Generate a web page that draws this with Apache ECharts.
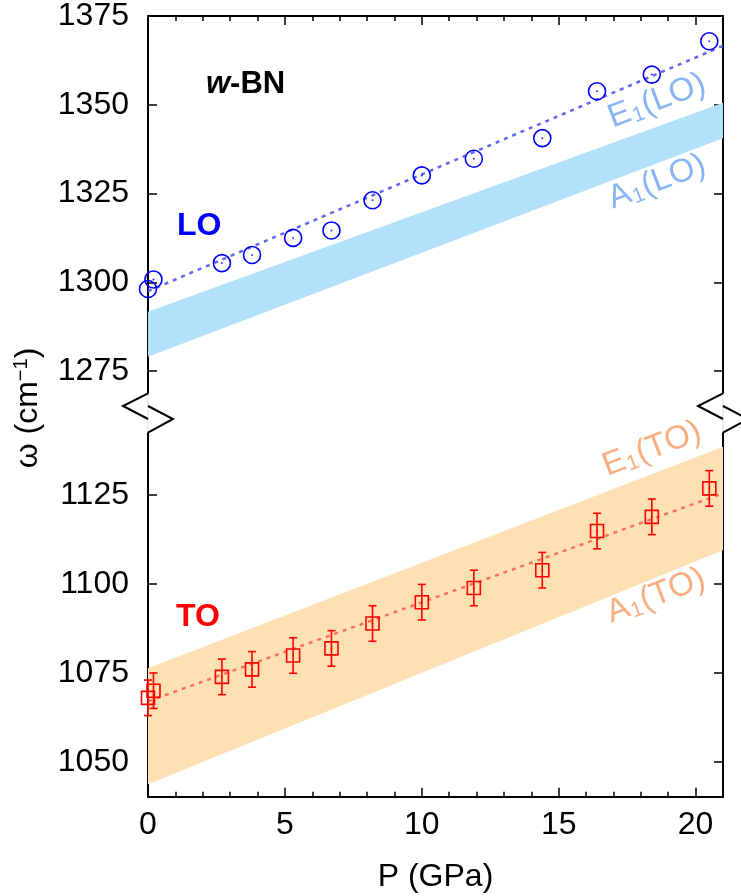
<!DOCTYPE html>
<html><head><meta charset="utf-8">
<script src="https://cdn.jsdelivr.net/npm/echarts@6/dist/echarts.min.js"></script>
<style>html,body{margin:0;padding:0;background:#fff}#c{width:741px;height:896px}</style>
</head><body><div id="c"></div><script>
// ---- data ----
const pressure = [0, 0.2, 2.7, 3.8, 5.3, 6.7, 8.2, 10.0, 11.9, 14.4, 16.4, 18.4, 20.5];
const loFreq = [1298.1, 1300.8, 1305.4, 1307.7, 1312.5, 1314.6, 1323.1, 1330.1, 1334.8, 1340.6, 1353.8, 1358.5, 1367.9];
const toFreq = [1068.0, 1070.0, 1073.9, 1076.0, 1079.9, 1081.9, 1088.9, 1094.9, 1098.9, 1103.9, 1114.9, 1118.9, 1126.9];
const toErr = [5, 5, 5, 5, 5, 5, 5, 5, 5, 5, 5, 5, 5];
const fitP = [0, 21];
const loFit = [1297.5, 1366.6];
const toFit = [1067.0, 1125.5];
const bandP = [0, 21];
const loA1 = [1279.0, 1340.6];
const loE1 = [1291.7, 1350.6];
const toA1 = [1043.7, 1109.5];
const toE1 = [1076.3, 1138.6];
const xTicks = [0, 5, 10, 15, 20];
const yTicksTop = [1275, 1300, 1325, 1350, 1375];
const yTicksBottom = [1050, 1075, 1100, 1125];

// ---- layout ----
const font = 'Liberation Sans, Arial, Helvetica, sans-serif';
const GL = 148, GW = 575;
const T1 = 15.3, H1 = 378;
const T2 = 432.7, H2 = 364;
const topMin = 1375 - H1 / 3.557, topMax = 1375;
const botMin = 1040.2, botMax = 1040.2 + H2 / 3.556;

const chart = echarts.init(document.getElementById('c'), null, {renderer: 'canvas'});

function xAxisCfg(gi, pos, labels) {
  return {
    type: 'value', gridIndex: gi, position: pos, min: 0, max: 21, interval: 5,
    axisLine: {show: true, onZero: false, lineStyle: {color: '#000', width: 2}},
    axisTick: {show: true, inside: true, length: 9, lineStyle: {color: '#000', width: 1.5}},
    minorTick: {show: true, splitNumber: 5, length: 5, lineStyle: {color: '#000', width: 1.5}},
    splitLine: {show: false}, minorSplitLine: {show: false},
    axisLabel: {show: labels, fontSize: 32, fontFamily: font, color: '#000', margin: 12,
      formatter: v => xTicks.includes(v) ? String(v) : ''}
  };
}
function yAxisCfg(gi, pos, mn, mx, ticks, labels) {
  return {
    type: 'value', gridIndex: gi, position: pos, min: mn, max: mx,
    axisLine: {show: true, onZero: false, lineStyle: {color: '#000', width: 2}},
    axisTick: {show: true, inside: true, length: 9, customValues: ticks, lineStyle: {color: '#000', width: 1.5}},
    splitLine: {show: false},
    axisLabel: {show: labels, customValues: ticks, fontSize: 32, fontFamily: font, color: '#000', margin: 19,
      formatter: v => String(Math.round(v))}
  };
}
function bandSeries(xi, yi, a, e, color) {
  return {
    type: 'custom', xAxisIndex: xi, yAxisIndex: yi, silent: true, z: 1,
    data: [[bandP[0], a[0], e[0], bandP[1], a[1], e[1]]],
    encode: {x: [0, 3], y: [1, 2, 4, 5]},
    renderItem: (params, api) => {
      const p1 = api.coord([api.value(0), api.value(1)]);
      const p2 = api.coord([api.value(3), api.value(4)]);
      const p3 = api.coord([api.value(3), api.value(5)]);
      const p4 = api.coord([api.value(0), api.value(2)]);
      return {type: 'polygon', shape: {points: [p1, p2, p3, p4]}, style: {fill: color}};
    }
  };
}
function fitSeries(xi, yi, vals, color) {
  return {
    type: 'line', xAxisIndex: xi, yAxisIndex: yi, silent: true, z: 3, showSymbol: false,
    data: fitP.map((p, i) => [p, vals[i]]),
    lineStyle: {color: color, width: 2.5, type: [4, 5]}
  };
}

const option = {
  animation: false,
  backgroundColor: '#fff',
  grid: [
    {left: GL, top: T1, width: GW, height: H1},
    {left: GL, top: T2, width: GW, height: H2}
  ],
  xAxis: [xAxisCfg(0, 'top', false), xAxisCfg(1, 'bottom', true)],
  yAxis: [
    yAxisCfg(0, 'left', topMin, topMax, yTicksTop, true),
    yAxisCfg(0, 'right', topMin, topMax, yTicksTop, false),
    yAxisCfg(1, 'left', botMin, botMax, yTicksBottom, true),
    yAxisCfg(1, 'right', botMin, botMax, yTicksBottom, false)
  ],
  series: [
    bandSeries(0, 0, loA1, loE1, '#b3e0fb'),
    bandSeries(1, 2, toA1, toE1, '#fde1b2'),
    fitSeries(0, 0, loFit, '#6464f2'),
    fitSeries(1, 2, toFit, '#f7705e'),
    {
      type: 'custom', xAxisIndex: 1, yAxisIndex: 2, z: 4, clip: false,
      data: pressure.map((p, i) => [p, toFreq[i], toErr[i]]),
      encode: {x: 0, y: 1},
      renderItem: (params, api) => {
        const x = api.value(0), y = api.value(1), e = api.value(2);
        const t = api.coord([x, y + e]), b = api.coord([x, y - e]);
        const c = 4, st = {stroke: '#ff0000', lineWidth: 1.6};
        return {type: 'group', children: [
          {type: 'line', shape: {x1: t[0], y1: t[1], x2: b[0], y2: b[1]}, style: st},
          {type: 'line', shape: {x1: t[0] - c, y1: t[1], x2: t[0] + c, y2: t[1]}, style: st},
          {type: 'line', shape: {x1: b[0] - c, y1: b[1], x2: b[0] + c, y2: b[1]}, style: st}
        ]};
      }
    },
    {
      type: 'scatter', xAxisIndex: 0, yAxisIndex: 0, z: 5, clip: false,
      symbol: 'circle', symbolSize: 17,
      itemStyle: {color: 'rgba(0,0,0,0)', borderColor: '#0000ff', borderWidth: 1.6, opacity: 1},
      data: pressure.map((p, i) => [p, loFreq[i]])
    },
    {
      type: 'scatter', xAxisIndex: 0, yAxisIndex: 0, z: 5, clip: false,
      symbol: 'circle', symbolSize: 2, itemStyle: {color: '#0000ff'},
      data: pressure.map((p, i) => [p, loFreq[i]])
    },
    {
      type: 'scatter', xAxisIndex: 1, yAxisIndex: 2, z: 5, clip: false,
      symbol: 'rect', symbolSize: 13,
      itemStyle: {color: 'rgba(0,0,0,0)', borderColor: '#ff0000', borderWidth: 1.6, opacity: 1},
      data: pressure.map((p, i) => [p, toFreq[i]])
    },
    {
      type: 'scatter', xAxisIndex: 1, yAxisIndex: 2, z: 5, clip: false,
      symbol: 'circle', symbolSize: 2, itemStyle: {color: '#ff0000'},
      data: pressure.map((p, i) => [p, toFreq[i]])
    }
  ]
};
chart.setOption(option);

// ---- decorations: axis break marks & text ----
const xl = GL, xr = GL + GW, yb1 = T1 + H1, yt2 = T2;
const ym = (yb1 + yt2) / 2, dz = 25;
const zig = (x0) => [
  {type: 'line', shape: {x1: x0, y1: yb1, x2: x0, y2: yt2}, style: {stroke: '#dddddd', lineWidth: 1}, z: 10},
  {type: 'polyline', shape: {points: [[x0, yb1], [x0 - dz, ym - 7], [x0, ym + 6]]}, style: {stroke: '#000', lineWidth: 2, fill: null}, z: 11},
  {type: 'polyline', shape: {points: [[x0, ym - 7], [x0 + dz, ym + 6], [x0, yt2]]}, style: {stroke: '#000', lineWidth: 2, fill: null}, z: 11}
];
const rot = 21 * Math.PI / 180;
const lblRich = (c) => ({
  n: {fontSize: 33, fontFamily: font, fill: c},
  s: {fontSize: 21, fontFamily: font, fill: c, padding: [13, 1, 0, 1]}
});
const rotLabel = (x, y, letter, mode, c) => ({
  type: 'text', x: x, y: y, rotation: rot, z: 12,
  style: {text: '{n|' + letter + '}{s|1}{n|(' + mode + ')}', rich: lblRich(c), fill: c,
    align: 'center', verticalAlign: 'middle', fontSize: 33, fontFamily: font}
});
chart.setOption({
  graphic: [].concat(zig(xl), zig(xr), [
    {type: 'text', x: 206, y: 84, z: 12, style: {text: '{i|w}{b|-BN}', align: 'left', verticalAlign: 'middle',
      rich: {i: {fontSize: 31, fontFamily: font, fontWeight: 'bold', fontStyle: 'italic', fill: '#000'},
             b: {fontSize: 31, fontFamily: font, fontWeight: 'bold', fill: '#000'}}}},
    {type: 'text', x: 177, y: 226, z: 12, style: {text: 'LO', fontSize: 32, fontWeight: 'bold', fontFamily: font, fill: '#0000ff', align: 'left', verticalAlign: 'middle'}},
    {type: 'text', x: 176, y: 617, z: 12, style: {text: 'TO', fontSize: 32, fontWeight: 'bold', fontFamily: font, fill: '#ff0000', align: 'left', verticalAlign: 'middle'}},
    rotLabel(657, 101, 'E', 'LO', '#89b6f3'),
    rotLabel(657, 182, 'A', 'LO', '#89b6f3'),
    rotLabel(652, 449, 'E', 'TO', '#f9ae80'),
    rotLabel(656, 596, 'A', 'TO', '#f9ae80'),
    {type: 'text', x: 28, y: 408, rotation: Math.PI / 2, z: 12,
      style: {text: '{n|ω (cm}{sup|−1}{n|)}', align: 'center', verticalAlign: 'middle',
        rich: {n: {fontSize: 32, fontFamily: font, fill: '#000'},
               sup: {fontSize: 20, fontFamily: font, fill: '#000', padding: [0, 0, 14, 0]}}}},
    {type: 'text', x: GL + GW / 2, y: 877, z: 12,
      style: {text: 'P (GPa)', fontSize: 32, fontFamily: font, fill: '#000', align: 'center', verticalAlign: 'middle'}}
  ])
});
</script></body></html>
